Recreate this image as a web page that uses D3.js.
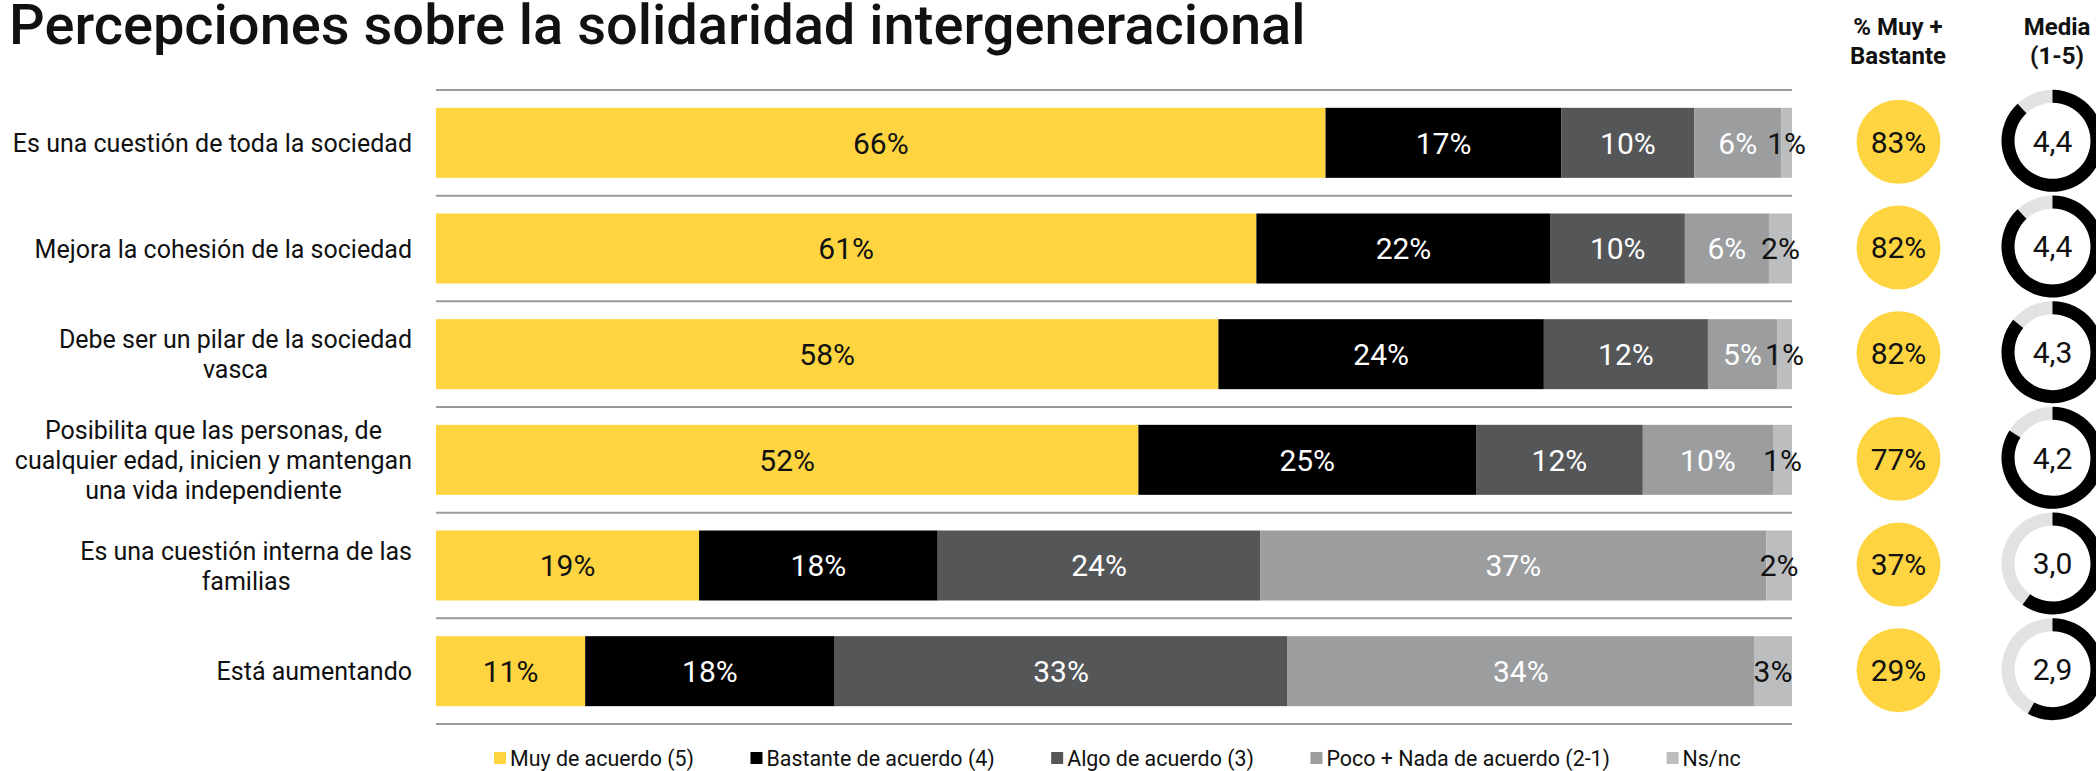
<!DOCTYPE html>
<html>
<head>
<meta charset="UTF-8">
<script src="https://cdn.jsdelivr.net/npm/d3@7"></script>
<style>
  body { margin: 0; background: #fff; }
  svg text { font-family: Roboto, "Noto Sans", sans-serif; }
</style>
<title>Percepciones sobre la solidaridad intergeneracional</title>
</head>
<body>
<svg id="chart" width="2096" height="771"></svg>
<script>
// datos
var categories = [
  "Es una cuestión de toda la sociedad",
  "Mejora la cohesión de la sociedad",
  "Debe ser un pilar de la sociedad\nvasca",
  "Posibilita que las personas, de\ncualquier edad, inicien y mantengan\nuna vida independiente",
  "Es una cuestión interna de las\nfamilias",
  "Está aumentando"
];
var seriesNames = ["Muy de acuerdo (5)", "Bastante de acuerdo (4)", "Algo de acuerdo (3)", "Poco + Nada de acuerdo (2-1)", "Ns/nc"];
var seriesColors = ["#fed541", "#000000", "#555658", "#9c9d9f", "#bcbdbf"];
var labelColors = ["#111", "#fff", "#fff", "#fff", "#111"];

var muyAcuerdo = [65.6, 60.5, 57.7, 51.8, 19.4, 11.0];
var bastante   = [17.4, 21.7, 24.0, 24.9, 17.6, 18.4];
var algo       = [ 9.8,  9.9, 12.1, 12.3, 23.8, 33.4];
var pocoNada   = [ 6.4,  6.2,  5.1,  9.6, 37.3, 34.4];
var nsnc       = [ 0.8,  1.7,  1.1,  1.4,  1.9,  2.8];

var muyMasBastante = [83, 82, 82, 77, 37, 29];
var media = [4.4, 4.4, 4.3, 4.2, 3.0, 2.9];

var svg = d3.select("#chart");
var es = d3.formatLocale({decimal: ",", thousands: ".", grouping: [3], currency: ["", " €"]});
var fmtMedia = es.format(".1f");

var keys = ["s0", "s1", "s2", "s3", "s4"];
var rows = categories.map(function(c, i) {
  return {cat: c, s0: muyAcuerdo[i], s1: bastante[i], s2: algo[i], s3: pocoNada[i], s4: nsnc[i]};
});
var stacked = d3.stack().keys(keys)(rows);

var x = d3.scaleLinear().domain([0, 100]).range([436, 1792]);
var y = d3.scaleBand().domain(categories).range([90, 724]);
var barH = 70;
var barOff = (y.bandwidth() - barH) / 2;

// titulo
svg.append("text")
  .attr("x", 9).attr("y", 44)
  .attr("font-size", 56).attr("font-weight", 500).attr("fill", "#111")
  .text("Percepciones sobre la solidaridad intergeneracional");

// lineas separadoras
var lines = categories.map(function(c) { return y(c); }).concat([y.range()[1]]);
svg.selectAll(".sep").data(lines).enter().append("line")
  .attr("x1", x(0)).attr("x2", x(100))
  .attr("y1", function(d) { return d; }).attr("y2", function(d) { return d; })
  .attr("stroke", "#9a9a9a").attr("stroke-width", 2);

// barras
var layer = svg.selectAll(".layer").data(stacked).enter().append("g")
  .attr("fill", function(d, i) { return seriesColors[i]; });
layer.selectAll("rect").data(function(d) { return d; }).enter().append("rect")
  .attr("x", function(d) { return x(d[0]); })
  .attr("width", function(d) { return x(d[1]) - x(d[0]); })
  .attr("y", function(d) { return y(d.data.cat) + barOff; })
  .attr("height", barH);

// etiquetas de barras
stacked.forEach(function(s, si) {
  svg.append("g").selectAll("text").data(s).enter().append("text")
    .attr("x", function(d) { return x((d[0] + d[1]) / 2); })
    .attr("y", function(d) { return y(d.data.cat) + y.bandwidth() / 2; })
    .attr("dy", "0.36em")
    .attr("text-anchor", "middle")
    .attr("font-size", 30)
    .attr("fill", labelColors[si])
    .text(function(d) { return Math.round(d[1] - d[0]) + "%"; });
});

// etiquetas de categorias: lineas centradas, bloque alineado a la derecha
var labelRight = 412, lineH = 30;
categories.forEach(function(c) {
  var parts = c.split("\n");
  var cy = y(c) + y.bandwidth() / 2;
  var t = svg.append("text")
    .attr("font-size", 25).attr("fill", "#111")
    .attr("text-anchor", "middle");
  parts.forEach(function(p, k) {
    t.append("tspan")
      .attr("y", cy + (k - (parts.length - 1) / 2) * lineH)
      .attr("dy", "0.36em")
      .text(p);
  });
  var maxW = 0;
  t.selectAll("tspan").each(function() { maxW = Math.max(maxW, this.getComputedTextLength()); });
  t.selectAll("tspan").attr("x", labelRight - maxW / 2);
});

// columna % Muy + Bastante
var cxTot = 1898.5, cxMed = 2052.5;
svg.selectAll(".tot").data(muyMasBastante).enter().append("circle")
  .attr("cx", cxTot)
  .attr("cy", function(d, i) { return y(categories[i]) + y.bandwidth() / 2 - 1; })
  .attr("r", 42)
  .attr("fill", seriesColors[0]);
svg.selectAll(".totl").data(muyMasBastante).enter().append("text")
  .attr("x", cxTot)
  .attr("y", function(d, i) { return y(categories[i]) + y.bandwidth() / 2 - 1; })
  .attr("dy", "0.36em").attr("text-anchor", "middle")
  .attr("font-size", 30).attr("fill", "#111")
  .text(function(d) { return d + "%"; });

// columna Media (donuts)
var arcBg = d3.arc().innerRadius(38).outerRadius(51).startAngle(0).endAngle(2 * Math.PI);
var arcFg = d3.arc().innerRadius(38).outerRadius(51).startAngle(0);
media.forEach(function(m, i) {
  var g = svg.append("g")
    .attr("transform", "translate(" + cxMed + "," + (y(categories[i]) + y.bandwidth() / 2 - 2) + ")");
  g.append("path").attr("d", arcBg()).attr("fill", "#e2e2e2");
  g.append("path").attr("d", arcFg({endAngle: (m / 5) * 2 * Math.PI})).attr("fill", "#000");
  g.append("text").attr("dy", "0.36em").attr("text-anchor", "middle")
    .attr("font-size", 30).attr("fill", "#111")
    .text(fmtMedia(m));
});

// cabeceras
var heads = [{x: 1898, l: ["% Muy +", "Bastante"]}, {x: 2057, l: ["Media", "(1-5)"]}];
heads.forEach(function(h) {
  var t = svg.append("text").attr("text-anchor", "middle")
    .attr("font-size", 24).attr("font-weight", 700).attr("fill", "#111");
  h.l.forEach(function(p, k) {
    t.append("tspan").attr("x", h.x).attr("y", 35 + k * 29).text(p);
  });
});

// leyenda
var legend = svg.append("g").attr("transform", "translate(494,758)");
var lx = 0;
seriesNames.forEach(function(n, i) {
  var g = legend.append("g").attr("transform", "translate(" + lx + ",0)");
  g.append("rect").attr("x", 0).attr("y", -6).attr("width", 12).attr("height", 12)
    .attr("fill", seriesColors[i]);
  var t = g.append("text").attr("x", 16).attr("dy", "0.36em")
    .attr("font-size", 21.4).attr("fill", "#111").text(n);
  lx += 16 + t.node().getComputedTextLength() + 56.5;
});
</script>
</body>
</html>
